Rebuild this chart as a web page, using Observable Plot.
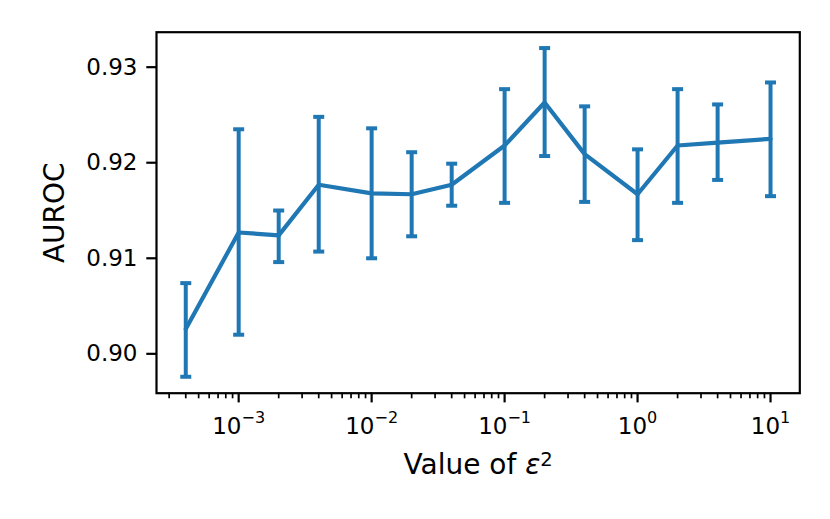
<!DOCTYPE html>
<html><head><meta charset="utf-8">
<script src="https://cdn.jsdelivr.net/npm/d3@7"></script>
<script src="https://cdn.jsdelivr.net/npm/@observablehq/plot@0.6"></script>
<style>body{margin:0;background:#fff}</style>
</head><body><div id="chart"></div>
<script>
const epsSquared = [4e-4, 1e-3, 2e-3, 4e-3, 1e-2, 2e-2, 4e-2, 1e-1, 2e-1, 4e-1, 1, 2, 4, 10];
const aurocMean  = [0.9026, 0.9127, 0.9124, 0.9177, 0.9168, 0.9167, 0.9177, 0.9218, 0.9263, 0.9209, 0.9167, 0.9218, 0.9221, 0.9225];
const aurocUpper = [0.9074, 0.9235, 0.9150, 0.9248, 0.9236, 0.9211, 0.9199, 0.9277, 0.9320, 0.9259, 0.9214, 0.9277, 0.9261, 0.9284];
const aurocLower = [0.8976, 0.9020, 0.9096, 0.9107, 0.9100, 0.9123, 0.9155, 0.9158, 0.9207, 0.9159, 0.9119, 0.9158, 0.9182, 0.9165];

const xTickValues = [1e-3, 1e-2, 1e-1, 1, 10];
const xTickLabels = ["10^\u22123", "10^\u22122", "10^\u22121", "10^0", "10^1"];
const yTickValues = [0.90, 0.91, 0.92, 0.93];
const yTickLabels = ["0.90", "0.91", "0.92", "0.93"];
const xLabel = "Value of \u03b5^2";
const yLabel = "AUROC";

const xDomain = [2.41e-4, 16.6];
const yDomain = [0.89588, 0.93366];

// minor log ticks (2..9 x 10^k) inside the domain
const xMinorTicks = [];
for (let k = -4; k <= 1; k++) for (let m = 2; m <= 9; m++) {
  const v = m * Math.pow(10, k);
  if (v >= xDomain[0] && v <= xDomain[1]) xMinorTicks.push(v);
}

const data = epsSquared.map((x, i) => ({x, y: aurocMean[i], lo: aurocLower[i], hi: aurocUpper[i]}));
const color = "#1f77b4";

const capSymbol = {
  draw(ctx, size) {
    const w = Math.sqrt(size / Math.PI);
    ctx.moveTo(-w, 0);
    ctx.lineTo(w, 0);
  }
};

const svg = Plot.plot({
  width: 830,
  height: 519,
  marginLeft: 156,
  marginRight: 30.7,
  marginTop: 31.7,
  marginBottom: 126.3,
  style: {fontFamily: "DejaVu Sans", fontSize: "23px", background: "white", color: "black", overflow: "visible"},
  x: {type: "log", domain: xDomain},
  y: {domain: yDomain},
  marks: [
    Plot.axisX(xMinorTicks, {tickSize: 5.6, strokeWidth: 1.7, tickFormat: () => "", label: null}),
    Plot.axisX(xTickValues, {tickSize: 9.7, strokeWidth: 2.2, tickPadding: 14.3, fontSize: 23,
      tickFormat: d => xTickLabels[xTickValues.indexOf(d)], label: null}),
    Plot.axisY(yTickValues, {tickSize: 9.7, strokeWidth: 2.2, tickPadding: 9.3, fontSize: 23,
      tickFormat: d => yTickLabels[yTickValues.indexOf(d)], label: null}),
    Plot.ruleX(data, {x: "x", y1: "lo", y2: "hi", stroke: color, strokeWidth: 4}),
    Plot.dot(data, {x: "x", y: "hi", symbol: capSymbol, r: 5.5, stroke: color, strokeWidth: 4, fill: "none"}),
    Plot.dot(data, {x: "x", y: "lo", symbol: capSymbol, r: 5.5, stroke: color, strokeWidth: 4, fill: "none"}),
    Plot.line(data, {x: "x", y: "y", stroke: color, strokeWidth: 4.2, strokeLinejoin: "round"}),
    Plot.frame({stroke: "black", strokeWidth: 2.2}),
    Plot.text([xLabel], {text: d => d, frameAnchor: "bottom", textAnchor: "middle", lineAnchor: "middle",
      dy: 71.6, fontSize: 28, fill: "black"}),
    Plot.text([yLabel], {text: d => d, frameAnchor: "left", textAnchor: "middle", lineAnchor: "middle",
      dx: -101, rotate: -90, fontSize: 28, fill: "black"})
  ]
});

d3.select(svg).selectAll("text").each(function() {
  const t = d3.select(this);
  const s = t.text();
  if (s === xLabel) {
    t.text("");
    t.append("tspan").text("Value of ");
    t.append("tspan").attr("font-style", "italic").text("\u03b5");
    t.append("tspan").attr("dy", -8).attr("font-size", 19.6).text("2");
    return;
  }
  const m = s.match(/^10\^(.+)$/);
  if (m) {
    t.text("");
    t.append("tspan").text("10");
    t.append("tspan").attr("dy", -10.5).attr("font-size", 16).text(m[1]);
  }
});

document.getElementById("chart").appendChild(svg);
</script>
</body></html>
